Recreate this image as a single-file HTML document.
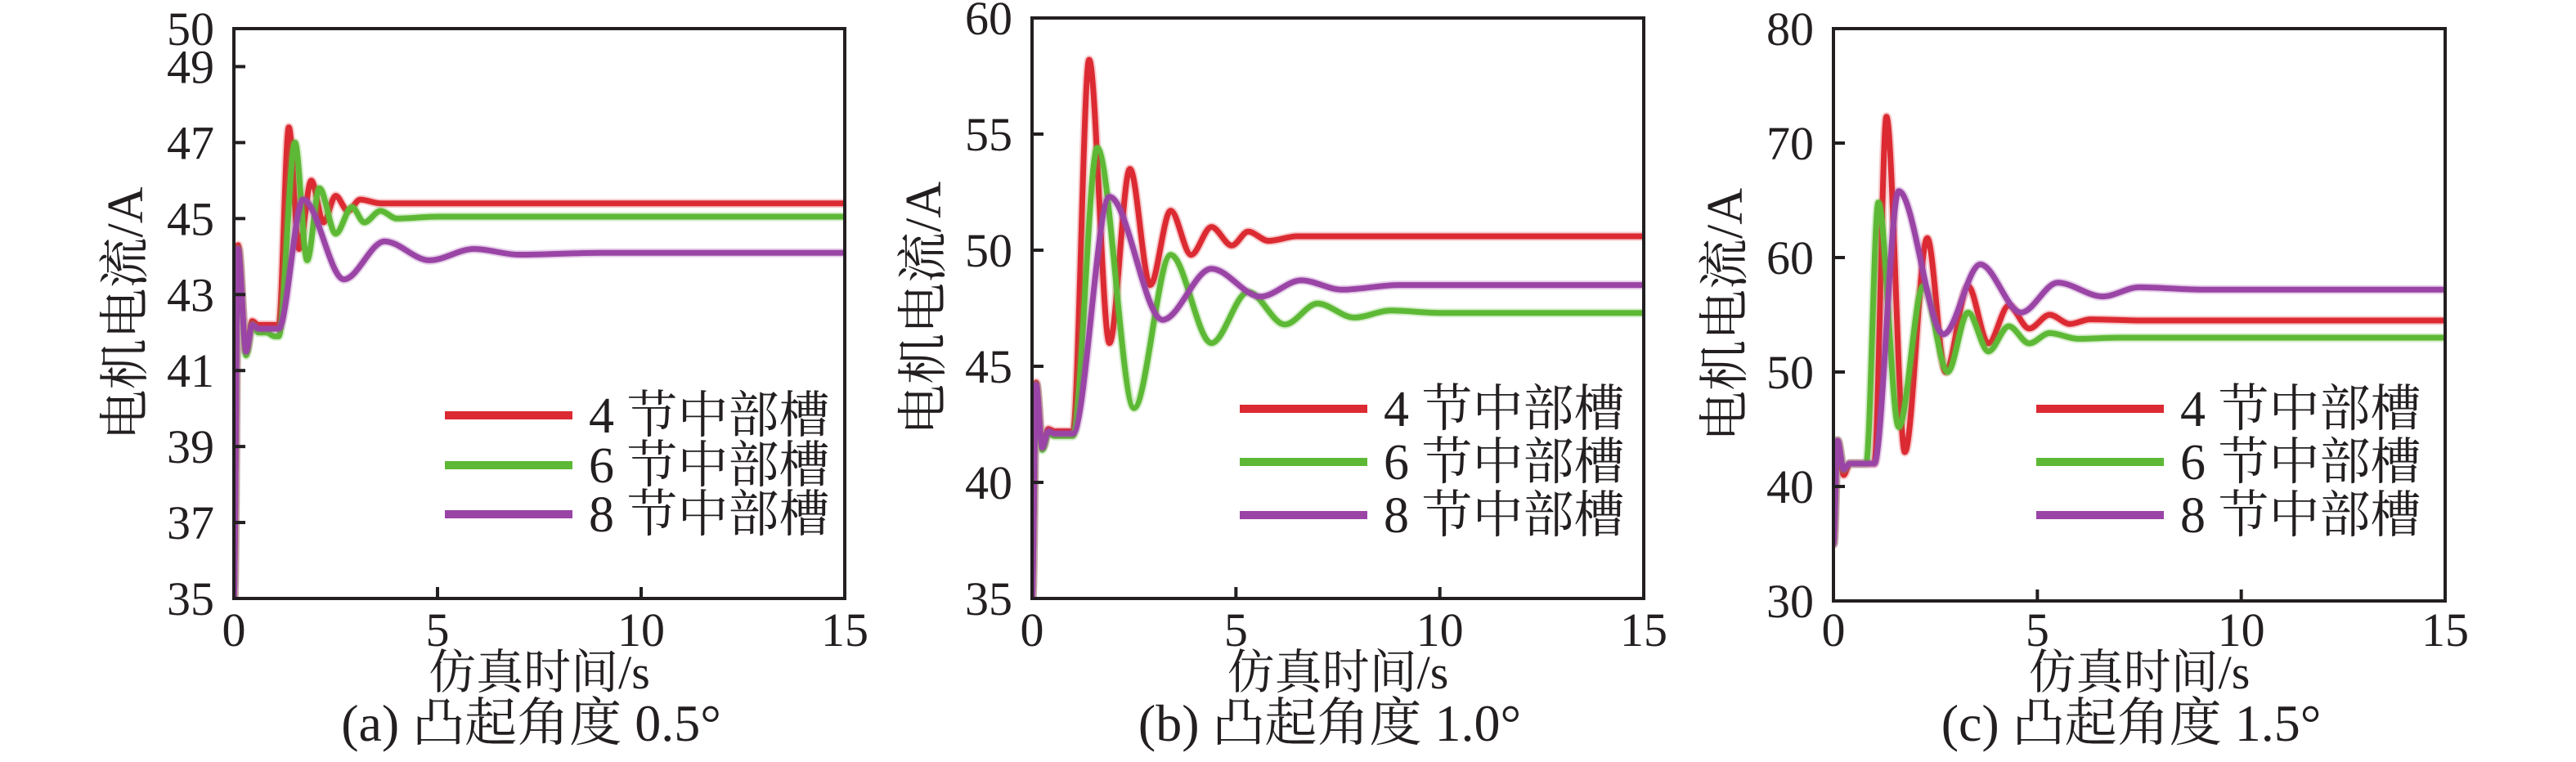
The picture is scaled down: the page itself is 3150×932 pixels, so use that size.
<!DOCTYPE html>
<html><head><meta charset="utf-8">
<style>
html,body{margin:0;padding:0;background:#fff;}
svg{display:block;}
text{font-family:"Liberation Serif","Noto Serif CJK SC","Noto Sans CJK SC",serif;fill:#231f20;}
</style></head>
<body>
<svg id="chart" width="3150" height="932" viewBox="0 0 3150 932" xmlns="http://www.w3.org/2000/svg"></svg>
<script>
// Panel (a) data
const aRedT=[0,0.1,0.3,0.45,0.6,0.8,1.0,1.1,1.35,1.6,1.9,2.2,2.5,2.8,3.1,3.6,5,10,15];
const aRedV=[35,44.3,41.5,42.3,42.2,42.2,42.2,42.2,47.4,44.2,46.0,44.9,45.6,45.2,45.5,45.4,45.4,45.4,45.4];
const aGreenT=[0,0.1,0.3,0.45,0.6,0.8,1.0,1.1,1.5,1.8,2.1,2.5,2.9,3.2,3.6,4.0,5,10,15];
const aGreenV=[35,44.2,41.4,42.2,42.0,42.0,41.9,41.9,47.0,43.9,45.8,44.6,45.3,44.9,45.2,45.0,45.05,45.05,45.05];
const aPurpleT=[0,0.1,0.3,0.45,0.6,0.8,1.0,1.1,1.7,2.7,3.7,4.8,5.9,7.0,9,12,15];
const aPurpleV=[35,44.2,41.5,42.2,42.1,42.1,42.1,42.1,45.5,43.4,44.4,43.9,44.2,44.05,44.1,44.1,44.1];
// Panel (b) data
const bRedT=[0,0.1,0.25,0.4,0.55,0.75,0.9,1.0,1.4,1.9,2.4,2.9,3.4,3.9,4.4,4.9,5.3,5.8,6.5,8,11,15];
const bRedV=[35,44.3,41.5,42.3,42.2,42.2,42.2,42.2,58.2,46.0,53.5,48.5,51.7,49.8,51.0,50.2,50.8,50.4,50.6,50.6,50.6,50.6];
const bGreenT=[0,0.1,0.25,0.4,0.55,0.75,0.9,1.0,1.6,2.5,3.4,4.4,5.3,6.2,7.0,7.9,8.8,10,12,15];
const bGreenV=[35,44.2,41.4,42.1,42.0,42.0,42.0,42.0,54.4,43.2,49.8,46.0,48.2,46.8,47.7,47.1,47.4,47.3,47.3,47.3];
const bPurpleT=[0,0.1,0.25,0.4,0.55,0.75,0.9,1.0,1.9,3.2,4.4,5.6,6.6,7.6,9,11,15];
const bPurpleV=[35,44.2,41.5,42.2,42.1,42.1,42.1,42.1,52.3,47.0,49.2,48.0,48.7,48.3,48.5,48.5,48.5];
// Panel (c) data
const cRedT=[0,0.1,0.25,0.4,0.55,0.75,0.9,1.0,1.3,1.75,2.3,2.75,3.3,3.8,4.3,4.8,5.3,5.8,6.3,7.5,10,15];
const cRedV=[35,44,41,42,42,42,42,42,72.3,43,61.7,50,57.5,52.5,55.8,53.8,55.0,54.2,54.6,54.5,54.5,54.5];
const cGreenT=[0,0.1,0.25,0.4,0.55,0.7,0.8,1.1,1.6,2.2,2.8,3.3,3.8,4.3,4.8,5.3,6.0,7,10,15];
const cGreenV=[35,44,41.5,42,42,42,42,64.8,45.2,57.5,50.0,55.2,51.8,54.0,52.5,53.4,52.9,53.0,53.0,53.0];
const cPurpleT=[0,0.1,0.25,0.4,0.55,0.75,0.9,1.0,1.6,2.7,3.6,4.6,5.5,6.6,7.5,9,11,15];
const cPurpleV=[35,44,41.5,42,42,42,42,42,65.8,53.3,59.4,55.2,57.8,56.6,57.4,57.2,57.2,57.2];
// ticks
const aYTicks=[35,37,39,41,43,45,47,49,50];
const bYTicks=[35,40,45,50,55,60];
const cYTicks=[30,40,50,60,70,80];
const xTicks=[0,5,10,15];
const legendLabels=["4 节中部槽","6 节中部槽","8 节中部槽"];
const captions=["(a) 凸起角度 0.5°","(b) 凸起角度 1.0°","(c) 凸起角度 1.5°"];

const NS="http://www.w3.org/2000/svg";
const svg=document.getElementById('chart');
const colors=["#dc2a32","#5db935","#9a45a6"];
const FF='"Liberation Serif","Noto Serif CJK SC","Noto Sans CJK SC",serif';
function mk(tag,attrs,parent){const e=document.createElementNS(NS,tag);for(const k in attrs)e.setAttribute(k,attrs[k]);if(tag==='text')e.setAttribute('font-family',FF);(parent||svg).appendChild(e);return e;}

const panels=[
 {id:'a',L:286,R:1033,T:35,B:732,ymin:35,ymax:50,yt:aYTicks,series:[[aRedT,aRedV],[aGreenT,aGreenV],[aPurpleT,aPurpleV]],leg:[544,700,720],legY:[508,569,629]},
 {id:'b',L:1262,R:2010,T:22,B:732,ymin:35,ymax:60,yt:bYTicks,series:[[bRedT,bRedV],[bGreenT,bGreenV],[bPurpleT,bPurpleV]],leg:[1516,1672,1692],legY:[500,565,630]},
 {id:'c',L:2242,R:2990,T:35,B:735,ymin:30,ymax:80,yt:cYTicks,series:[[cRedT,cRedV],[cGreenT,cGreenV],[cPurpleT,cPurpleV]],leg:[2490,2646,2666],legY:[500,565,630]}
];

function smoothPath(pts){
 let d='M'+pts[0][0].toFixed(1)+','+pts[0][1].toFixed(1);
 for(let i=0;i<pts.length-1;i++){
  const p0=pts[Math.max(0,i-1)],p1=pts[i],p2=pts[i+1],p3=pts[Math.min(pts.length-1,i+2)];
  let m1=(p2[1]-p0[1])/6, m2=(p3[1]-p1[1])/6;
  if((p1[1]-p0[1])*(p2[1]-p1[1])<=0) m1=0;
  if((p2[1]-p1[1])*(p3[1]-p2[1])<=0) m2=0;
  const dx=(p2[0]-p1[0])/3;
  d+=' C'+(p1[0]+dx).toFixed(1)+','+(p1[1]+m1).toFixed(1)+' '+(p2[0]-dx).toFixed(1)+','+(p2[1]-m2).toFixed(1)+' '+p2[0].toFixed(1)+','+p2[1].toFixed(1);
 }
 return d;
}

panels.forEach((p,pi)=>{
 const g=mk('g',{});
 
 
 const xs=t=>p.L+(t-0)/(15-0)*(p.R-p.L);
 const ys=v=>p.B-(v-p.ymin)/(p.ymax-p.ymin)*(p.B-p.T);
 const clip=mk('clipPath',{id:'clip'+p.id},g);
 mk('rect',{x:p.L,y:p.T,width:p.R-p.L,height:p.B-p.T},clip);
 p.series.forEach((s,si)=>{
  const pts=s[0].map((t,i)=>[xs(t),ys(s[1][i])]);
  const d=smoothPath(pts);
  const glow=mk('path',{d:d,fill:'none',stroke:colors[si],'stroke-width':11,'stroke-opacity':0.25,'stroke-linejoin':'round','clip-path':'url(#clip'+p.id+')'},g);
  
  
  const path=mk('path',{d:d,fill:'none',stroke:colors[si],'stroke-width':7,'stroke-linejoin':'round','clip-path':'url(#clip'+p.id+')'},g);
  
  
 });
 const fr=mk('rect',{x:p.L,y:p.T,width:p.R-p.L,height:p.B-p.T,fill:'none',stroke:'#231f20','stroke-width':4},g);
 
 
 p.yt.forEach(v=>{
  const y=ys(v);
  if(v!==p.ymin&&v!==p.ymax){const tk=mk('line',{x1:p.L,x2:p.L+14,y1:y,y2:y,stroke:'#231f20','stroke-width':4},g);
   }
  const tx=mk('text',{x:p.L-24,y:y+20,'font-size':58,'text-anchor':'end'},g);
  tx.textContent=v;
  
  
 });
 xTicks.forEach(t=>{
  const x=xs(t);
  if(t!==0&&t!==15){const tk=mk('line',{x1:x,x2:x,y1:p.B,y2:p.B-14,stroke:'#231f20','stroke-width':4},g);
   }
  const tx=mk('text',{x:x,y:790,'font-size':58,'text-anchor':'middle'},g);
  tx.textContent=t;
  
  
 });
 const cx=(p.L+p.R)/2;
 const xt=mk('text',{x:cx,y:842,'font-size':58,'text-anchor':'middle'},g);
 xt.textContent='仿真时间/s';
 
 
 const cap=mk('text',{x:cx-10,y:906,'font-size':64,'text-anchor':'middle'},g);
 cap.textContent=captions[pi];
 
 
 const ytx=p.L-112, yty=(p.T+p.B)/2;
 const yt=mk('text',{x:ytx,y:yty,'font-size':62,'text-anchor':'middle',transform:'rotate(-90 '+ytx+' '+yty+')'},g);
 yt.textContent='电机电流/A';
 
 
 legendLabels.forEach((lab,li)=>{
  const ly=p.legY[li];
  const ln=mk('line',{x1:p.leg[0],x2:p.leg[1],y1:ly,y2:ly,stroke:colors[li],'stroke-width':10},g);
  
  
  const lt=mk('text',{x:p.leg[2],y:ly+21,'font-size':62},g);
  lt.textContent=lab;
  
  
 });
});
</script>
</body></html>
